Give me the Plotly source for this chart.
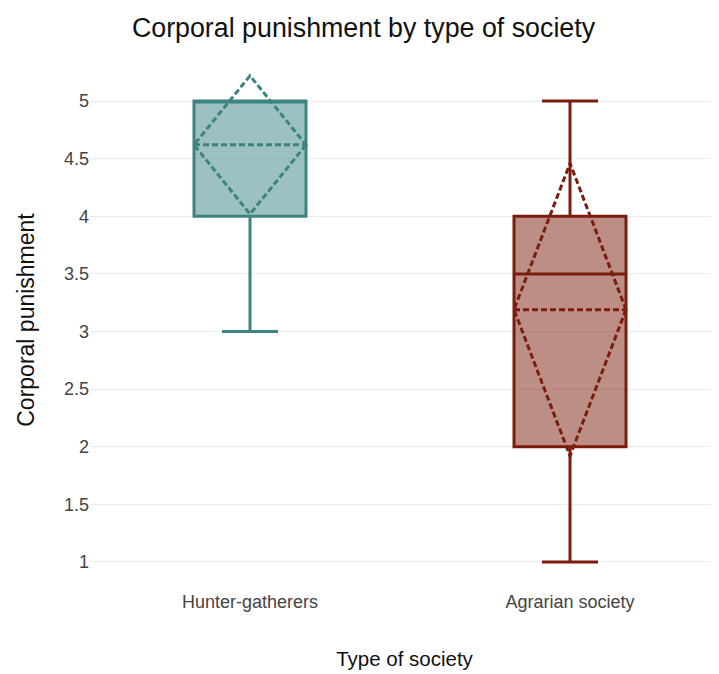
import plotly.graph_objects as go

categories = ["Hunter-gatherers", "Agrarian society"]
q1 = [4, 2]
median = [5, 3.5]
q3 = [5, 4]
lowerfence = [3, 1]
upperfence = [5, 5]
means = [4.62, 3.19]
sds = [0.60, 1.27]
line_colors = ["#3b8482", "#7b1d0d"]
y_ticks = [1, 1.5, 2, 2.5, 3, 3.5, 4, 4.5, 5]

fig = go.Figure()
for i, cat in enumerate(categories):
    fig.add_trace(go.Box(
        x=[cat], q1=[q1[i]], median=[median[i]], q3=[q3[i]],
        lowerfence=[lowerfence[i]], upperfence=[upperfence[i]],
        mean=[means[i]], sd=[sds[i]], boxmean="sd",
        name=cat, line=dict(color=line_colors[i], width=3),
        whiskerwidth=0.5, boxpoints=False, hoverinfo="skip",
    ))

fig.update_layout(
    width=711, height=666,
    margin=dict(l=82, r=0, t=47, b=89),
    paper_bgcolor="white", plot_bgcolor="white",
    showlegend=False, boxgap=0.5,
    font=dict(family="Liberation Sans, Arial, sans-serif", color="#222"),
    title=dict(text="Corporal punishment by type of society", x=0.5, xanchor="center",
               y=0.971, yanchor="middle", yref="container",
               font=dict(size=26.8, color="#111")),
    xaxis=dict(range=[-0.5, 1.4656], showgrid=False, zeroline=False, showline=False,
               automargin=False, ticks="", ticklabelstandoff=4,
               tickfont=dict(size=18, color="#444"),
               title=dict(text="Type of society", font=dict(size=20.5, color="#111"), standoff=40)),
    yaxis=dict(range=[0.8, 5.4], tickvals=y_ticks, ticktext=[str(v) for v in y_ticks],
               showgrid=True, gridcolor="#ebebeb", gridwidth=1, zeroline=False,
               automargin=False, showline=False, ticks="", tickfont=dict(size=18, color="#444"),
               title=dict(text="Corporal punishment", font=dict(size=23, color="#111"), standoff=22)),
)

fig.write_html("out.html")
